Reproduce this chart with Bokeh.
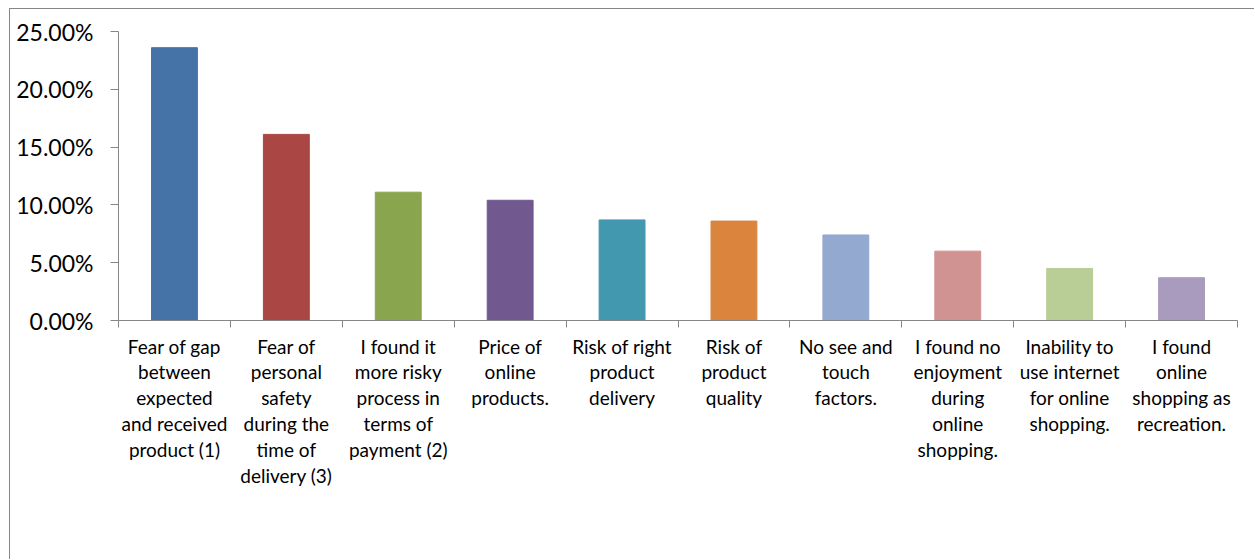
from bokeh.plotting import figure
from bokeh.models import Range1d, LinearAxis, FixedTicker, NumeralTickFormatter, ColumnDataSource
from bokeh.embed import file_html
from bokeh.resources import INLINE

categories = [
    "Fear of gap\nbetween\nexpected\nand received\nproduct (1)",
    "Fear of\npersonal\nsafety\nduring the\ntime of\ndelivery (3)",
    "I found it\nmore risky\nprocess in\nterms of\npayment (2)",
    "Price of\nonline\nproducts.",
    "Risk of right\nproduct\ndelivery",
    "Risk of\nproduct\nquality",
    "No see and\ntouch\nfactors.",
    "I found no\nenjoyment\nduring\nonline\nshopping.",
    "Inability to\nuse internet\nfor online\nshopping.",
    "I found\nonline\nshopping as\nrecreation.",
]
values = [0.236, 0.161, 0.111, 0.104, 0.087, 0.086, 0.074, 0.060, 0.045, 0.037]
colors = ["#4572A7", "#AA4643", "#89A54E", "#71588F", "#4198AF",
          "#DB843D", "#93A9CF", "#D19392", "#B9CD96", "#A99BBD"]
y_ticks = [0.0, 0.05, 0.10, 0.15, 0.20, 0.25]

n = len(categories)
xs = [i + 0.5 for i in range(n)]
src = ColumnDataSource(dict(x=xs, top=values, color=colors))

FONT = "Lato"
AXIS_COLOR = "#868686"

p = figure(width=1245, height=551, x_range=Range1d(0, n), y_range=Range1d(0, 0.25),
           output_backend="svg", toolbar_location=None,
           min_border_left=108, min_border_right=18, min_border_top=22, min_border_bottom=240)
p.styles = {"border-top": "1px solid #868686", "border-left": "1px solid #868686",
            "margin-left": "9px", "margin-top": "8px"}
p.outline_line_color = None
p.xgrid.visible = False
p.ygrid.visible = False

p.vbar(x="x", top="top", width=0.41, color="color", source=src)

# y axis
ya = p.yaxis[0]
ya.ticker = FixedTicker(ticks=y_ticks)
ya.formatter = NumeralTickFormatter(format="0.00%")
ya.axis_line_color = AXIS_COLOR
ya.major_tick_line_color = AXIS_COLOR
ya.major_tick_out = 8
ya.major_tick_in = 0
ya.minor_tick_line_color = None
ya.major_label_standoff = 17
ya.major_label_text_font = FONT
ya.major_label_text_font_size = "23px"
ya.major_label_text_color = "#000000"

# x axis: boundary ticks only
xa = p.xaxis[0]
xa.ticker = FixedTicker(ticks=list(range(n + 1)))
xa.major_label_overrides = {i: "" for i in range(n + 1)}
xa.axis_line_color = AXIS_COLOR
xa.major_tick_line_color = AXIS_COLOR
xa.major_tick_out = 7
xa.major_tick_in = 0
xa.minor_tick_line_color = None
xa.major_label_standoff = 0
xa.major_label_text_font_size = "1px"

# x axis: category labels
la = LinearAxis(ticker=FixedTicker(ticks=xs),
                major_label_overrides={x: c for x, c in zip(xs, categories)})
la.axis_line_color = None
la.major_tick_line_color = None
la.minor_tick_line_color = None
la.major_tick_out = 0
la.major_tick_in = 0
la.major_label_standoff = 7
la.major_label_text_font = FONT
la.major_label_text_font_size = "19px"
la.major_label_text_color = "#000000"
la.major_label_text_line_height = 1.13
la.major_label_text_align = "center"
p.add_layout(la, "below")

open("out.html", "w").write(file_html(p, INLINE))
